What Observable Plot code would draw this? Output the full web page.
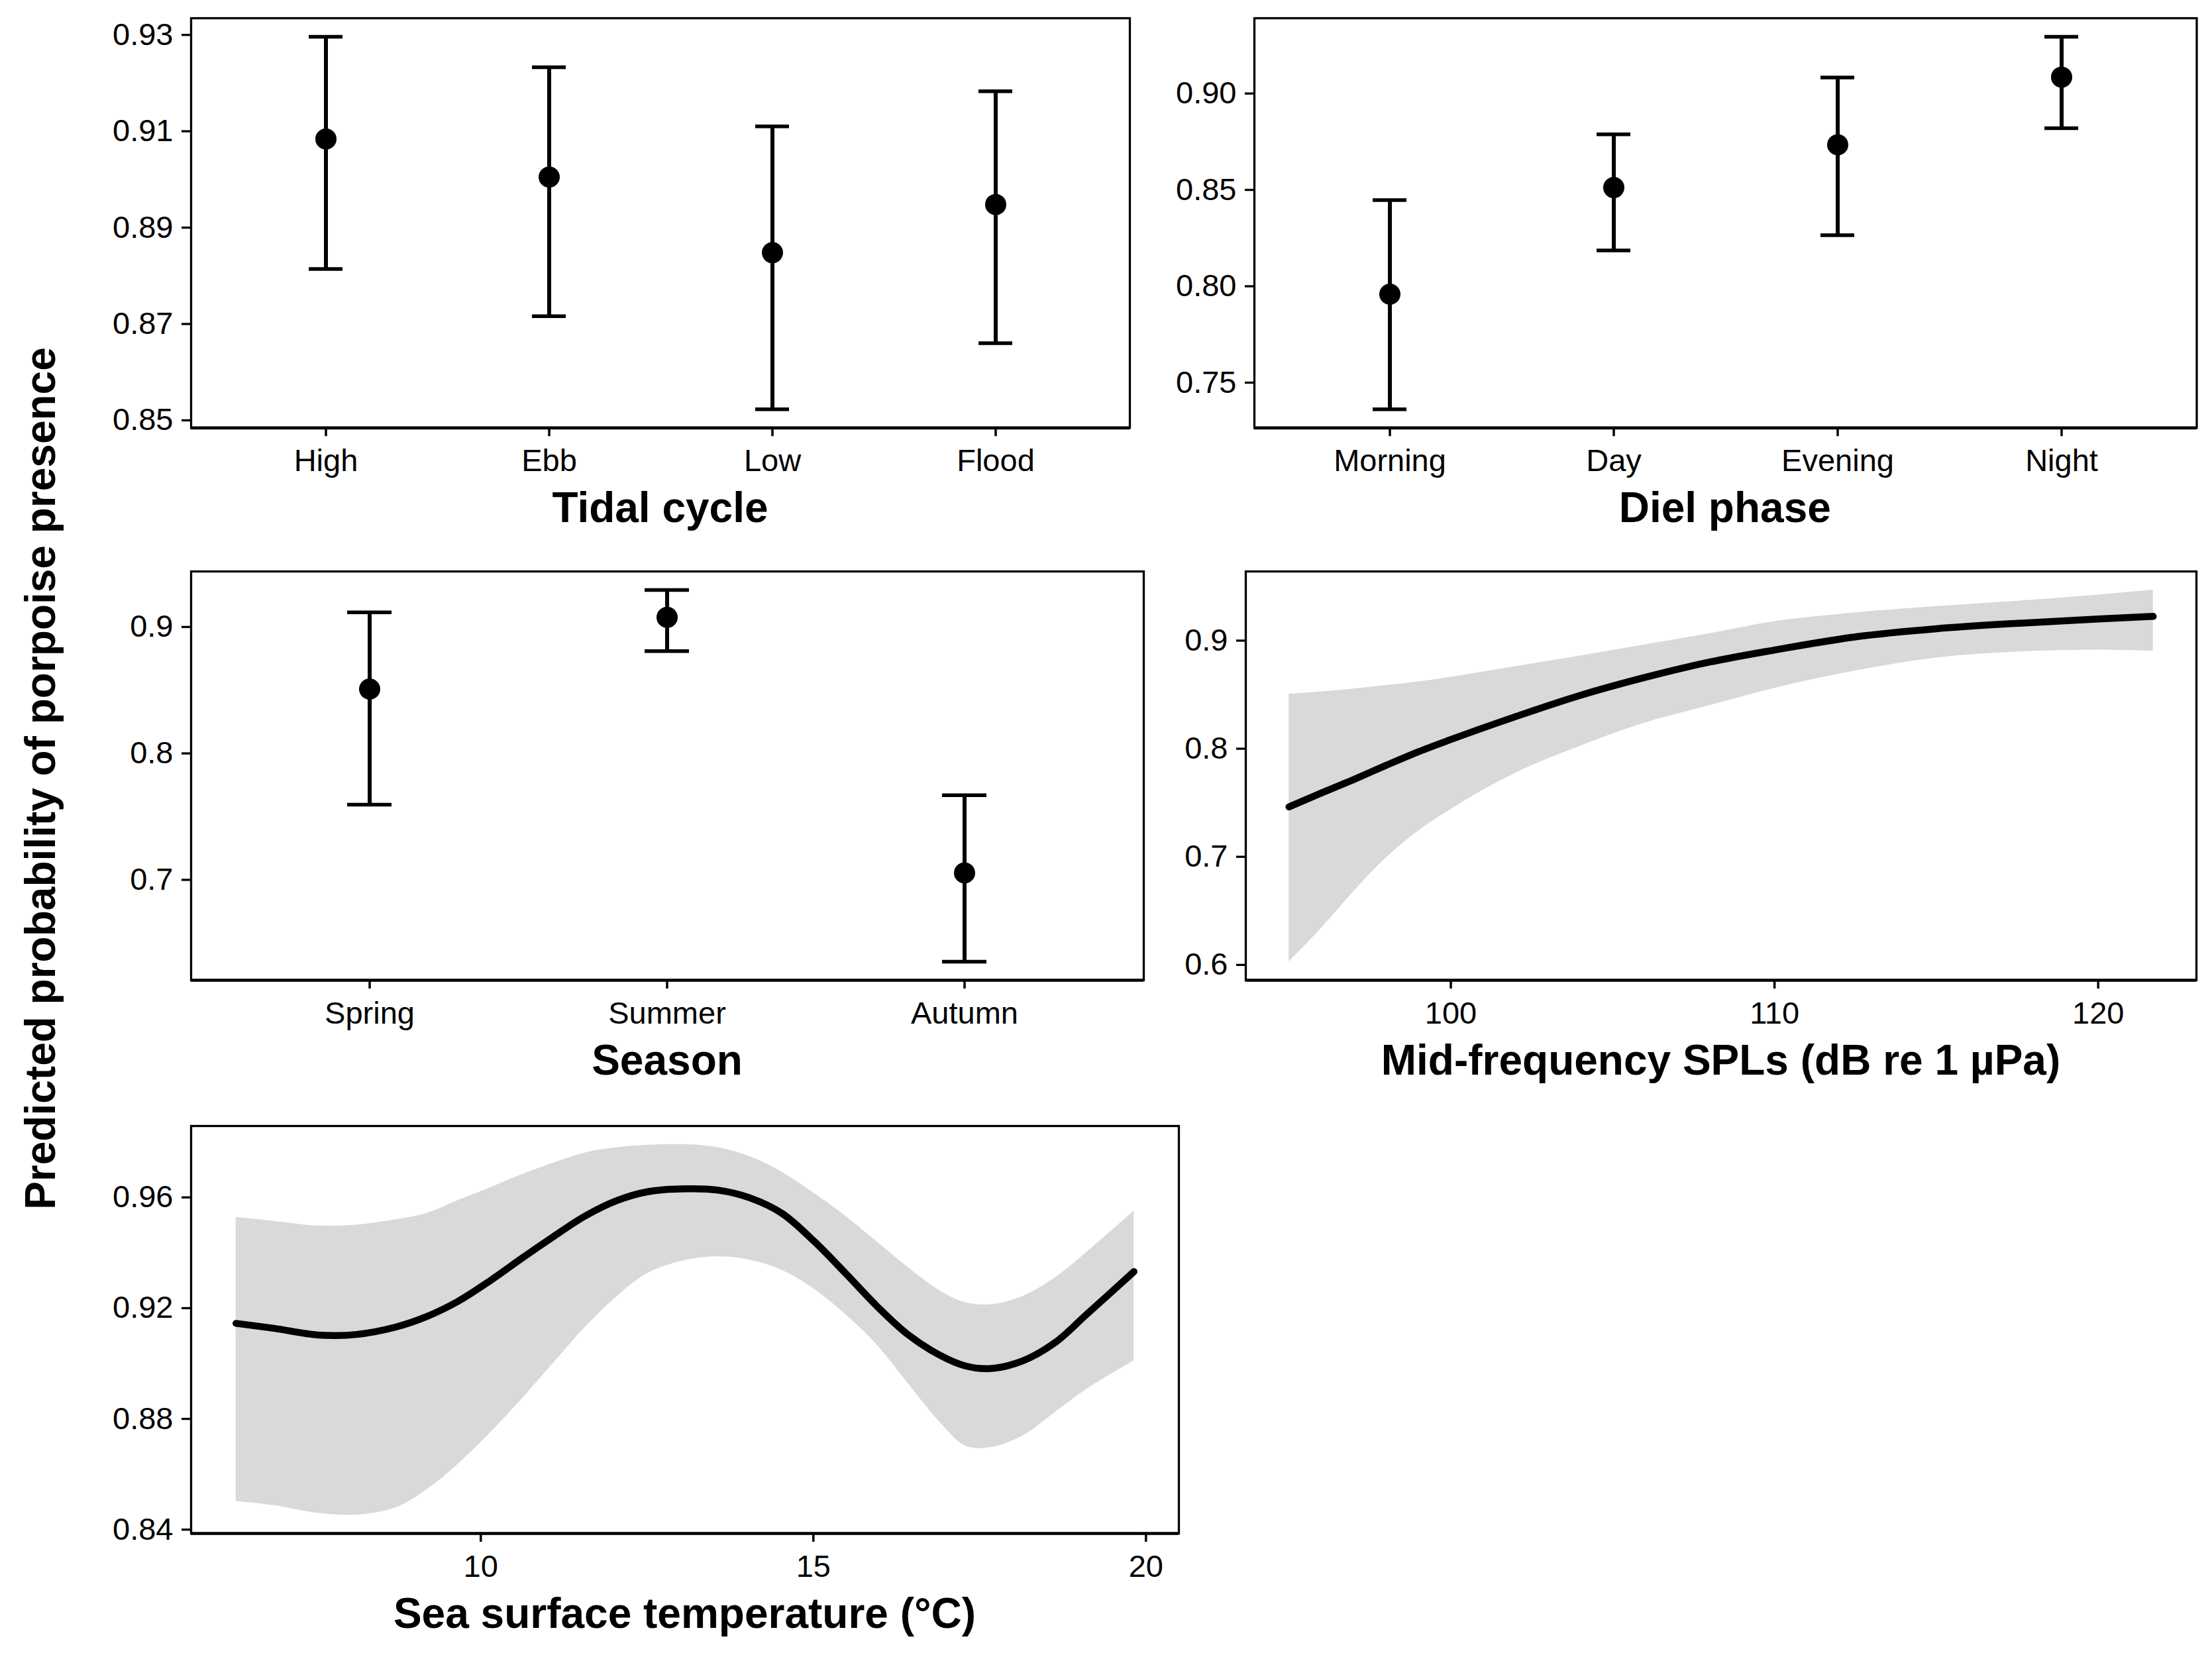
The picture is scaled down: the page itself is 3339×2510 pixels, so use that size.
<!DOCTYPE html>
<html>
<head>
<meta charset="utf-8">
<script src="https://cdn.jsdelivr.net/npm/d3@7"></script>
<script src="https://cdn.jsdelivr.net/npm/@observablehq/plot@0.6"></script>
<style>
  html, body { margin: 0; padding: 0; background: #ffffff; }
  #page { position: relative; width: 3339px; height: 2510px; background: #ffffff; overflow: hidden; }
  .xtitle, .ytitle { position: absolute; font-family: "Liberation Sans", Arial, sans-serif; font-weight: bold; font-size: 64px; line-height: 64px; height: 64px; color: #000; text-align: center; white-space: nowrap; }
  svg { overflow: visible; }
</style>
</head>
<body>
<div id="page"></div>
<script>
// ---------- data ----------
const tidalCats  = ["High", "Ebb", "Low", "Flood"];
const tidalFit   = [0.9084, 0.9005, 0.8848, 0.8948];
const tidalLower = [0.8814, 0.8716, 0.8523, 0.8660];
const tidalUpper = [0.9296, 0.9233, 0.9110, 0.9183];
const tidalTicks = [0.85, 0.87, 0.89, 0.91, 0.93];

const dielCats  = ["Morning", "Day", "Evening", "Night"];
const dielFit   = [0.7959, 0.8512, 0.8734, 0.9085];
const dielLower = [0.7362, 0.8186, 0.8265, 0.8820];
const dielUpper = [0.8447, 0.8788, 0.9083, 0.9294];
const dielTicks = [0.75, 0.80, 0.85, 0.90];

const seasonCats  = ["Spring", "Summer", "Autumn"];
const seasonFit   = [0.8509, 0.9076, 0.7055];
const seasonLower = [0.7595, 0.8809, 0.6353];
const seasonUpper = [0.9115, 0.9292, 0.7669];
const seasonTicks = [0.7, 0.8, 0.9];

const splX     = [95, 96, 97, 98, 99, 100, 102, 104, 106, 108, 110, 112.5, 115, 117.5, 120, 121.7];
const splFit   = [0.7462, 0.7590, 0.7715, 0.7846, 0.7972, 0.8085, 0.8297, 0.8494, 0.8660, 0.8802, 0.8913, 0.9035, 0.9110, 0.9160, 0.9200, 0.9224];
const splUpper = [0.8504, 0.8527, 0.8553, 0.8585, 0.8620, 0.8663, 0.8760, 0.8858, 0.8962, 0.9066, 0.9177, 0.9258, 0.9316, 0.9365, 0.9423, 0.9468];
const splLower = [0.6030, 0.6340, 0.6680, 0.6990, 0.7240, 0.7440, 0.7775, 0.8025, 0.8240, 0.8400, 0.8560, 0.8720, 0.8840, 0.8895, 0.8913, 0.8903];
const splYTicks = [0.6, 0.7, 0.8, 0.9];
const splXTicks = [100, 110, 120];

const sstX     = [6.32, 6.89, 7.56, 8.13, 8.71, 9.18, 9.66, 10.14, 10.61, 11.09, 11.57, 12.05, 12.52, 13.10, 13.57, 14.05, 14.53, 15.00, 15.48, 15.96, 16.43, 16.91, 17.29, 17.67, 18.15, 18.63, 19.11, 19.82];
const sstFit   = [0.9145, 0.9127, 0.9103, 0.9105, 0.9131, 0.9169, 0.9225, 0.9299, 0.9379, 0.9458, 0.9533, 0.9589, 0.9621, 0.9631, 0.9626, 0.9598, 0.9542, 0.9444, 0.9327, 0.9206, 0.9103, 0.9029, 0.8991, 0.8982, 0.9010, 0.9075, 0.9178, 0.9332];
const sstUpper = [0.9528, 0.9514, 0.9497, 0.9500, 0.9519, 0.9542, 0.9589, 0.9635, 0.9682, 0.9724, 0.9761, 0.9780, 0.9789, 0.9791, 0.9780, 0.9747, 0.9691, 0.9617, 0.9533, 0.9439, 0.9346, 0.9262, 0.9220, 0.9213, 0.9243, 0.9309, 0.9402, 0.9551];
const sstLower = [0.8502, 0.8487, 0.8459, 0.8453, 0.8478, 0.8543, 0.8637, 0.8749, 0.8870, 0.9001, 0.9131, 0.9243, 0.9327, 0.9374, 0.9386, 0.9374, 0.9337, 0.9271, 0.9178, 0.9066, 0.8926, 0.8786, 0.8702, 0.8697, 0.8739, 0.8823, 0.8907, 0.9010];
const sstYTicks = [0.84, 0.88, 0.92, 0.96];
const sstXTicks = [10, 15, 20];

const yTitle = "Predicted probability of porpoise presence";
const xTitles = ["Tidal cycle", "Diel phase", "Season", "Mid-frequency SPLs (dB re 1 \u00B5Pa)", "Sea surface temperature (\u00B0C)"];

// ---------- helpers ----------
const FONT = "'Liberation Sans', Arial, sans-serif";
const page = document.getElementById("page");
const BAND = "#d9d9d9";

function expand(vals) {
  const [a, b] = d3.extent(vals);
  const p = (b - a) * 0.05;
  return [a - p, b + p];
}

function panel({frame, x, yDomain, yTicks, yFormat, xTicks, xFormat, marks, title}) {
  const {l, r, t, b} = frame;
  const ML = 250, MR = 20, MT = 20, MB = 120;
  const svg = Plot.plot({
    width: r - l + ML + MR,
    height: b - t + MT + MB,
    marginLeft: ML, marginRight: MR, marginTop: MT, marginBottom: MB,
    style: {fontFamily: FONT, fontSize: "47px", background: "transparent", color: "#000", maxWidth: "none"},
    x: x,
    y: {domain: yDomain},
    marks: [
      ...marks,
      Plot.frame({stroke: "#000", strokeWidth: 3.3}),
      Plot.ruleY([yDomain[0]], {stroke: "#000", strokeWidth: 4.7}),
      Plot.axisY({ticks: yTicks, tickFormat: yFormat, tickSize: 14, tickPadding: 13, strokeWidth: 3.3, fontSize: 47, label: null, fill: "#000"}),
      Plot.axisX({ticks: xTicks, tickFormat: xFormat, tickSize: 13, tickPadding: 19, strokeWidth: 3.5, fontSize: 47, label: null, fill: "#000"})
    ]
  });
  svg.style.position = "absolute";
  svg.style.left = (l - ML) + "px";
  svg.style.top = (t - MT) + "px";
  page.appendChild(svg);

  const d = document.createElement("div");
  d.className = "xtitle";
  d.textContent = title;
  const cx = (l + r) / 2;
  d.style.width = "2000px";
  d.style.left = (cx - 1000) + "px";
  d.style.top = (b + 141 - 52.5) + "px";
  page.appendChild(d);
}

function catPanel(frame, cats, fit, lower, upper, ticks, fmt, title) {
  const rows = cats.map((c, i) => ({c, fit: fit[i], lo: lower[i], hi: upper[i]}));
  panel({
    frame,
    x: {type: "band", domain: cats, paddingInner: 0.85, paddingOuter: 0.525},
    yDomain: expand([...lower, ...upper]),
    yTicks: ticks, yFormat: fmt,
    xTicks: undefined, xFormat: undefined,
    title,
    marks: [
      Plot.ruleX(rows, {x: "c", y1: "lo", y2: "hi", stroke: "#000", strokeWidth: 6}),
      Plot.tickY(rows, {x: "c", y: "hi", stroke: "#000", strokeWidth: 5.5}),
      Plot.tickY(rows, {x: "c", y: "lo", stroke: "#000", strokeWidth: 5.5}),
      Plot.dot(rows, {x: "c", y: "fit", r: 16, fill: "#000", stroke: "none"})
    ]
  });
}

function curvePanel(frame, xs, fit, lower, upper, xTicks, yTicks, yFmt, title, curve) {
  const rows = xs.map((x, i) => ({x, fit: fit[i], lo: lower[i], hi: upper[i]}));
  panel({
    frame,
    x: {domain: expand(xs)},
    yDomain: expand([...lower, ...upper]),
    yTicks, yFormat: yFmt,
    xTicks, xFormat: d3.format("d"),
    title,
    marks: [
      Plot.areaY(rows, {x: "x", y1: "lo", y2: "hi", fill: BAND, curve}),
      Plot.line(rows, {x: "x", y: "fit", stroke: "#000", strokeWidth: 10.5, curve})
    ]
  });
}

// ---------- panels ----------
catPanel({l: 288, r: 1705, t: 26.7, b: 645}, tidalCats, tidalFit, tidalLower, tidalUpper, tidalTicks, d3.format(".2f"), xTitles[0]);
catPanel({l: 1892.5, r: 3315, t: 26.7, b: 645}, dielCats, dielFit, dielLower, dielUpper, dielTicks, d3.format(".2f"), xTitles[1]);
catPanel({l: 288, r: 1726, t: 862, b: 1479}, seasonCats, seasonFit, seasonLower, seasonUpper, seasonTicks, d3.format(".1f"), xTitles[2]);
curvePanel({l: 1880, r: 3315, t: 862, b: 1479}, splX, splFit, splLower, splUpper, splXTicks, splYTicks, d3.format(".1f"), xTitles[3], "monotone-x");
curvePanel({l: 288, r: 1779, t: 1699, b: 2314}, sstX, sstFit, sstLower, sstUpper, sstXTicks, sstYTicks, d3.format(".2f"), xTitles[4], "catmull-rom");

// ---------- shared y title ----------
const yt = document.createElement("div");
yt.className = "ytitle";
yt.textContent = yTitle;
yt.style.width = "1600px";
yt.style.left = (61 - 800) + "px";
yt.style.top = (1175 - 32) + "px";
yt.style.transform = "rotate(-90deg)";
yt.style.transformOrigin = "50% 50%";
page.appendChild(yt);
</script>
</body>
</html>
